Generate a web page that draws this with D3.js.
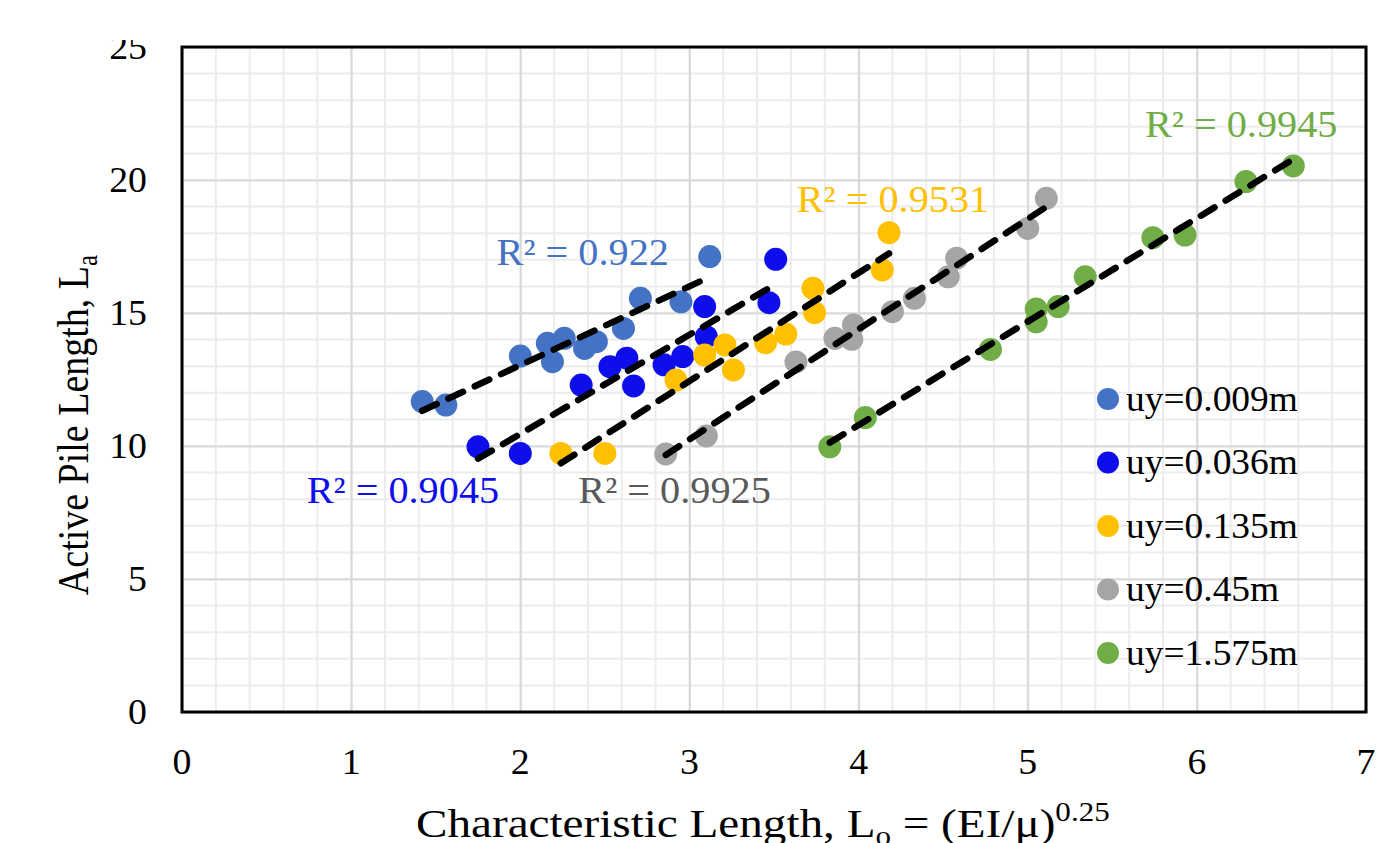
<!DOCTYPE html>
<html>
<head>
<meta charset="utf-8">
<script src="https://cdn.jsdelivr.net/npm/d3@7"></script>
<style>
  body { margin: 0; background: #fff; }
  svg { display: block; font-family: "Liberation Serif", "Times New Roman", serif; }
</style>
</head>
<body>
<div id="chart"></div>
<script>
// chart data
var xTicks = [0, 1, 2, 3, 4, 5, 6, 7];
var yTicks = [0, 5, 10, 15, 20, 25];

var seriesNames = ['uy=0.009m', 'uy=0.036m', 'uy=0.135m', 'uy=0.45m', 'uy=1.575m'];

var lo009 = [1.42, 1.56, 2.00, 2.16, 2.19, 2.26, 2.38, 2.45, 2.61, 2.71, 2.95, 3.12];
var la009 = [11.67, 11.54, 13.38, 13.86, 13.17, 14.05, 13.67, 13.92, 14.42, 15.55, 15.42, 17.12];

var lo036 = [1.75, 2.00, 2.36, 2.53, 2.63, 2.67, 2.85, 2.96, 3.09, 3.10, 3.47, 3.51];
var la036 = [9.97, 9.72, 12.29, 12.98, 13.30, 12.26, 13.05, 13.36, 15.24, 14.11, 15.39, 17.02];

var lo135 = [2.24, 2.50, 2.92, 3.09, 3.21, 3.26, 3.45, 3.57, 3.73, 3.74, 4.14, 4.18];
var la135 = [9.72, 9.72, 12.48, 13.42, 13.80, 12.86, 13.88, 14.21, 15.93, 15.01, 16.62, 18.02];

var lo45 = [2.86, 3.10, 3.63, 3.86, 3.97, 3.96, 4.20, 4.33, 4.53, 4.58, 5.00, 5.11];
var la45 = [9.70, 10.38, 13.16, 14.05, 14.55, 14.01, 15.05, 15.55, 16.36, 17.06, 18.18, 19.31];

var lo1575 = [3.83, 4.04, 4.78, 5.05, 5.05, 5.18, 5.34, 5.74, 5.93, 6.29, 6.57];
var la1575 = [9.97, 11.07, 13.63, 14.67, 15.15, 15.24, 16.36, 17.83, 17.93, 19.94, 20.53];

var r2Labels = ['R² = 0.922', 'R² = 0.9045', 'R² = 0.9531', 'R² = 0.9925', 'R² = 0.9945'];


(function () {

	'use strict';

	// styles
	var colors = ['#4472C4', '#0E0EEB', '#FFC000', '#A5A5A5', '#70AD47'];
	var labelColors = ['#4472C4', '#0E0EEB', '#FFC000', '#595959', '#70AD47'];
	// where the R² labels sit, in axis units
	var labelAt = [[1.86, 16.8], [0.737, 7.85], [3.634, 18.8], [2.343, 7.86], [5.693, 21.63]];

	var allLo = [lo009, lo036, lo135, lo45, lo1575];
	var allLa = [la009, la036, la135, la45, la1575];

	var series = seriesNames.map(function(name, i) {
		return {
			name: name,
			color: colors[i],
			points: allLo[i].map(function(v, j) { return { x: v, y: allLa[i][j] }; })
		};
	});

	var W = 1377, H = 843;
	var plotL = 182, plotR = 1366, plotT = 47, plotB = 712;

	var svg = d3.select('#chart').append('svg').attr('width', W).attr('height', H);

	var x = d3.scaleLinear().domain([0, 7]).range([plotL, plotR]);
	var y = d3.scaleLinear().domain([0, 25]).range([plotB, plotT]);

	// text with a slight horizontal stretch, like the source image
	function stretchText(sel, px, py, sx) {
		return sel.attr('transform', 'translate(' + px + ',' + py + ') scale(' + sx + ',1)');
	}

	/* GRID
	============================*/
	var minorX = d3.range(0, 7.001, 0.2);
	var minorY = d3.range(0, 25.001, 1);

	svg.append('g').selectAll('line').data(minorX).enter().append('line')
		.attr('x1', function(d) { return x(d); }).attr('x2', function(d) { return x(d); })
		.attr('y1', plotT).attr('y2', plotB)
		.attr('stroke', '#ececec').attr('stroke-width', 2);

	svg.append('g').selectAll('line').data(minorY).enter().append('line')
		.attr('x1', plotL).attr('x2', plotR)
		.attr('y1', function(d) { return y(d); }).attr('y2', function(d) { return y(d); })
		.attr('stroke', '#ececec').attr('stroke-width', 2);

	svg.append('g').call(d3.axisBottom(x).tickValues(xTicks).tickSize(-(plotB - plotT)).tickFormat(''))
		.attr('transform', 'translate(0,' + plotB + ')')
		.call(function(g) {
			g.select('.domain').remove();
			g.selectAll('line').attr('stroke', '#d9d9d9').attr('stroke-width', 2);
		});

	svg.append('g').call(d3.axisLeft(y).tickValues(yTicks).tickSize(-(plotR - plotL)).tickFormat(''))
		.attr('transform', 'translate(' + plotL + ',0)')
		.call(function(g) {
			g.select('.domain').remove();
			g.selectAll('line').attr('stroke', '#d9d9d9').attr('stroke-width', 2);
		});

	// frame
	svg.append('rect')
		.attr('x', plotL).attr('y', plotT)
		.attr('width', plotR - plotL).attr('height', plotB - plotT)
		.attr('fill', 'none').attr('stroke', '#000').attr('stroke-width', 3);

	/* TICK LABELS
	============================*/
	svg.append('g').selectAll('text').data(xTicks).enter().append('text')
		.attr('text-anchor', 'middle')
		.attr('font-size', 36)
		.each(function(d) { stretchText(d3.select(this), x(d), 774, 1.05); })
		.text(function(d) { return d; });

	svg.append('g').selectAll('text').data(yTicks).enter().append('text')
		.attr('text-anchor', 'end')
		.attr('font-size', 36)
		.attr('dy', '0.34em')
		.each(function(d) { stretchText(d3.select(this), 147, y(d), 1.05); })
		.text(function(d) { return d; });

	// the top of the picture is cut off above the plot
	svg.append('rect').attr('x', 0).attr('y', 0).attr('width', plotL - 10).attr('height', 40).attr('fill', '#fff');

	/* AXIS TITLES
	============================*/
	var xTitle = svg.append('text').attr('font-size', 41);
	stretchText(xTitle, 416, 837, 1.15);
	xTitle.append('tspan').text('Characteristic Length, L');
	xTitle.append('tspan').attr('font-size', 27).attr('dy', 8).text('o');
	xTitle.append('tspan').attr('dy', -8).text(' = (EI/μ)');
	xTitle.append('tspan').attr('font-size', 27).attr('dy', -16).text('0.25');

	var yTitle = svg.append('text').attr('font-size', 38).attr('text-anchor', 'middle')
		.attr('transform', 'translate(88,425) scale(1.15,1) rotate(-90)');
	yTitle.append('tspan').text('Active Pile Length, L');
	yTitle.append('tspan').attr('font-size', 25).attr('dy', 8).text('a');

	/* POINTS
	============================*/
	series.forEach(function(s) {
		svg.append('g').selectAll('circle').data(s.points).enter().append('circle')
			.attr('cx', function(d) { return x(d.x); })
			.attr('cy', function(d) { return y(d.y); })
			.attr('r', 11.5)
			.attr('fill', s.color);
	});

	/* TRENDLINES (least squares on each series)
	============================*/
	function fit(pts) {
		var mx = d3.mean(pts, function(d) { return d.x; });
		var my = d3.mean(pts, function(d) { return d.y; });
		var sxy = d3.sum(pts, function(d) { return (d.x - mx) * (d.y - my); });
		var sxx = d3.sum(pts, function(d) { return (d.x - mx) * (d.x - mx); });
		var b = sxy / sxx;
		return { a: my - b * mx, b: b };
	}

	var line = d3.line().x(function(d) { return x(d.x); }).y(function(d) { return y(d.y); });

	series.forEach(function(s) {
		var f = fit(s.points);
		var ext = d3.extent(s.points, function(d) { return d.x; });
		var ends = ext.map(function(v) { return { x: v, y: f.a + f.b * v }; });
		svg.append('path').datum(ends)
			.attr('d', line)
			.attr('fill', 'none')
			.attr('stroke', '#000')
			.attr('stroke-width', 6.5)
			.attr('stroke-linecap', 'round')
			.attr('stroke-dasharray', '16,13');
	});

	/* R² LABELS
	============================*/
	r2Labels.forEach(function(t, i) {
		var lbl = svg.append('text')
			.attr('font-size', 38)
			.attr('fill', labelColors[i])
			.text(t);
		stretchText(lbl, x(labelAt[i][0]), y(labelAt[i][1]), 1.06);
	});

	/* LEGEND
	============================*/
	var legend = svg.append('g').selectAll('g').data(series).enter().append('g')
		.attr('transform', function(d, i) { return 'translate(1108,' + (399 + i * 63.5) + ')'; });

	legend.append('circle').attr('r', 11).attr('fill', function(d) { return d.color; });
	legend.append('text')
		.attr('font-size', 35)
		.attr('dy', '0.34em')
		.each(function() { stretchText(d3.select(this), 18, 0, 1.07); })
		.text(function(d) { return d.name; });

})();
</script>
</body>
</html>
